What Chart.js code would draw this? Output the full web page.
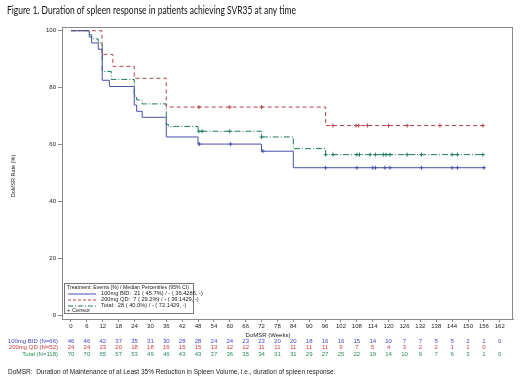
<!DOCTYPE html>
<html>
<head>
<meta charset="utf-8">
<script src="https://cdn.jsdelivr.net/npm/chart.js@4"></script>
<style>
  body { margin: 0; background: #fff; }
</style>
</head>
<body>
<canvas id="km" width="520" height="380"></canvas>
<script>
// KM steps: week where the rate changes, and the DoMSR rate (%) from then on
const bidWeeks = [0, 6.9, 7.8, 10.3, 11.8, 14.5, 23.9, 24.8, 26.9, 36, 48, 72, 84, 156.5];
const bidRate  = [100, 97.8, 95.7, 93.5, 82.6, 80.4, 73.9, 71.7, 69.6, 62.7, 60.2, 57.7, 51.9, 51.9];

const qdWeeks = [0, 11.7, 15.8, 23.9, 36, 96.2, 156.5];
const qdRate  = [100, 91.7, 87.5, 83.3, 73.2, 66.7, 66.7];

const totalWeeks = [0, 6.9, 7.8, 10.3, 11.8, 15.2, 23.9, 24.8, 26.9, 36, 36.8, 48, 72, 84, 96.2, 156.5];
const totalRate  = [100, 98.6, 97.1, 95.7, 85.7, 82.9, 77.1, 75.7, 74.3, 67.1, 66.4, 64.7, 62.7, 58.6, 56.5, 56.5];

// censored observations (weeks)
const bidCensor   = [48.5, 60.3, 72.5, 96.2, 108, 114, 115, 118.6, 120.5, 132.4, 144, 146, 156];
const qdCensor    = [48.3, 60, 72, 99, 107.7, 108.7, 112, 120, 127, 139.4, 155.6];
const totalCensor = [48.3, 49.5, 60, 72, 96.2, 99, 108, 109, 113, 115, 118, 119, 120.5, 127, 132.4, 144, 146, 155.6];

// axis ticks
const xTicks = [0,6,12,18,24,30,36,42,48,54,60,66,72,78,84,90,96,102,108,114,120,126,132,138,144,150,156,162];
const yTicks = [0, 20, 40, 60, 80, 100];

// number at risk
const riskBID   = [46,46,42,37,35,31,30,28,28,24,24,23,23,20,20,18,16,16,15,14,10,7,7,5,5,2,1,0];
const riskQD    = [24,24,23,20,18,18,16,15,15,13,12,12,11,11,11,11,11,9,7,5,4,3,2,2,1,1,0];
const riskTotal = [70,70,65,57,53,49,46,43,43,37,36,35,34,31,31,29,27,25,22,19,14,10,9,7,6,3,1,0];

const groupNames = ["100mg BID (N=66)", "200mg QD (N=52)", "Total (N=118)"];
const legendTexts = [
  "100mg BID:  21 ( 45.7%) / - ( 36.4286, -)",
  "200mg QD:  7 ( 29.2%) / - ( 36.1429, -)",
  "Total:  28 ( 40.0%) / - ( 72.1429, -)"
];

const BLUE = "#4a4fa8", RED = "#b8404a", GREEN = "#1e7a62";
const tableColors = ["#4444c8", "#d03838", "#2a8a5a"];

function stepData(weeks, rate) {
  return weeks.map((w, i) => ({ x: w, y: rate[i] }));
}
function rateAt(weeks, rate, t) {
  let s = rate[0];
  for (let i = 0; i < weeks.length; i++) if (weeks[i] <= t) s = rate[i];
  return s;
}
function censorData(cw, weeks, rate) {
  return cw.map(t => ({ x: t, y: rateAt(weeks, rate, t) }));
}

// extra drawing: frame, title, legend box, risk table, footnote
const decor = {
  id: "decor",
  afterDraw(chart) {
    const ctx = chart.ctx, a = chart.chartArea, xs = chart.scales.x;
    ctx.save();
    ctx.strokeStyle = "#8a8a8a";
    ctx.lineWidth = 1;
    ctx.strokeRect(a.left + 0.5, a.top + 0.5, a.right - a.left - 1, a.bottom - a.top);

    // title
    ctx.fillStyle = "#111";
    ctx.font = "11px Lato";
    ctx.textBaseline = "middle";
    ctx.textAlign = "left";
    ctx.fillText("Figure 1. Duration of spleen response in patients achieving SVR35 at any time", 7, 10, 289);

    // y axis title
    ctx.save();
    ctx.translate(13, 176);
    ctx.rotate(-Math.PI / 2);
    ctx.textAlign = "center";
    ctx.font = "5.5px 'Liberation Sans'";
    ctx.fillStyle = "#222";
    ctx.fillText("DoMSR Rate (%)", 0, 0);
    ctx.restore();

    // legend box
    const lx = 64, ly = 283, lw = 129, lh = 30;
    ctx.fillStyle = "#fff";
    ctx.fillRect(lx, ly, lw, lh);
    ctx.strokeStyle = "#777";
    ctx.strokeRect(lx + 0.5, ly + 0.5, lw, lh);
    ctx.font = "5.7px 'Liberation Sans'";
    ctx.fillStyle = "#222";
    ctx.textAlign = "left";
    ctx.fillText("Treatment: Events (%) / Median Percentiles (95% CI)", lx + 3, ly + 4.5, 122);
    const styles = [[BLUE, []], [RED, [3, 2]], [GREEN, [5, 2, 1, 2]]];
    styles.forEach((s, i) => {
      const yy = ly + 10.5 + i * 6;
      ctx.strokeStyle = s[0];
      ctx.setLineDash(s[1]);
      ctx.beginPath();
      ctx.moveTo(lx + 4, yy + 0.5);
      ctx.lineTo(lx + 32, yy + 0.5);
      ctx.stroke();
      ctx.setLineDash([]);
      ctx.fillStyle = "#222";
      ctx.fillText(legendTexts[i], lx + 37, yy);
    });
    ctx.fillText("+ Censor", lx + 3, ly + 27);

    // x axis title
    ctx.font = "6px 'Liberation Sans'";
    ctx.textAlign = "center";
    ctx.fillStyle = "#222";
    ctx.fillText("DoMSR (Weeks)", 268, 335);

    // number at risk table
    const rows = [riskBID, riskQD, riskTotal];
    rows.forEach((row, r) => {
      const yy = 341 + r * 6.8;
      ctx.fillStyle = tableColors[r];
      ctx.textAlign = "right";
      ctx.fillText(groupNames[r], 58, yy);
      ctx.textAlign = "center";
      row.forEach((n, i) => ctx.fillText(String(n), xs.getPixelForValue(xTicks[i]), yy));
    });

    // footnote
    ctx.fillStyle = "#222";
    ctx.textAlign = "left";
    ctx.font = "6.5px 'Liberation Sans'";
    ctx.fillText("DoMSR:  Duration of Maintenance of at Least 35% Reduction in Spleen Volume, i.e., duration of spleen response.", 8, 372, 338);
    ctx.restore();
  }
};

function lineSet(label, weeks, rate, color, dash) {
  return {
    label: label,
    data: stepData(weeks, rate),
    stepped: "before",
    borderColor: color,
    borderWidth: 1,
    borderDash: dash,
    pointRadius: 0,
    fill: false
  };
}
function censorSet(label, cw, weeks, rate, color) {
  return {
    label: label,
    data: censorData(cw, weeks, rate),
    showLine: false,
    pointStyle: "cross",
    pointRadius: 2,
    borderColor: color,
    borderWidth: 1
  };
}

new Chart(document.getElementById("km"), {
  type: "line",
  data: {
    datasets: [
      lineSet("100mg BID", bidWeeks, bidRate, BLUE, []),
      lineSet("200mg QD", qdWeeks, qdRate, RED, [4, 3]),
      lineSet("Total", totalWeeks, totalRate, GREEN, [6, 2, 1, 2]),
      censorSet("BID censor", bidCensor, bidWeeks, bidRate, BLUE),
      censorSet("QD censor", qdCensor, qdWeeks, qdRate, RED),
      censorSet("Total censor", totalCensor, totalWeeks, totalRate, GREEN)
    ]
  },
  options: {
    responsive: false,
    animation: false,
    layout: { padding: { left: 42, top: 27, right: 7, bottom: 47 } },
    plugins: { legend: { display: false }, tooltip: { enabled: false } },
    scales: {
      x: {
        type: "linear",
        min: -3.4,
        max: 167,
        afterBuildTicks: s => { s.ticks = xTicks.map(v => ({ value: v })); },
        afterFit: s => { s.height = 14; },
        ticks: { autoSkip: false, maxRotation: 0, padding: 1, color: "#222", font: { size: 6, family: "'Liberation Sans'" } },
        grid: { drawOnChartArea: false, tickLength: 3, color: "#8a8a8a" },
        border: { color: "#8a8a8a" }
      },
      y: {
        min: -1.2,
        max: 101.3,
        afterBuildTicks: s => { s.ticks = yTicks.map(v => ({ value: v })); },
        afterFit: s => { s.width = 20; },
        ticks: { padding: 2, color: "#222", font: { size: 6, family: "'Liberation Sans'" } },
        grid: { drawOnChartArea: false, tickLength: 4, color: "#8a8a8a" },
        border: { color: "#8a8a8a" }
      }
    }
  },
  plugins: [decor]
});
</script>
</body>
</html>
